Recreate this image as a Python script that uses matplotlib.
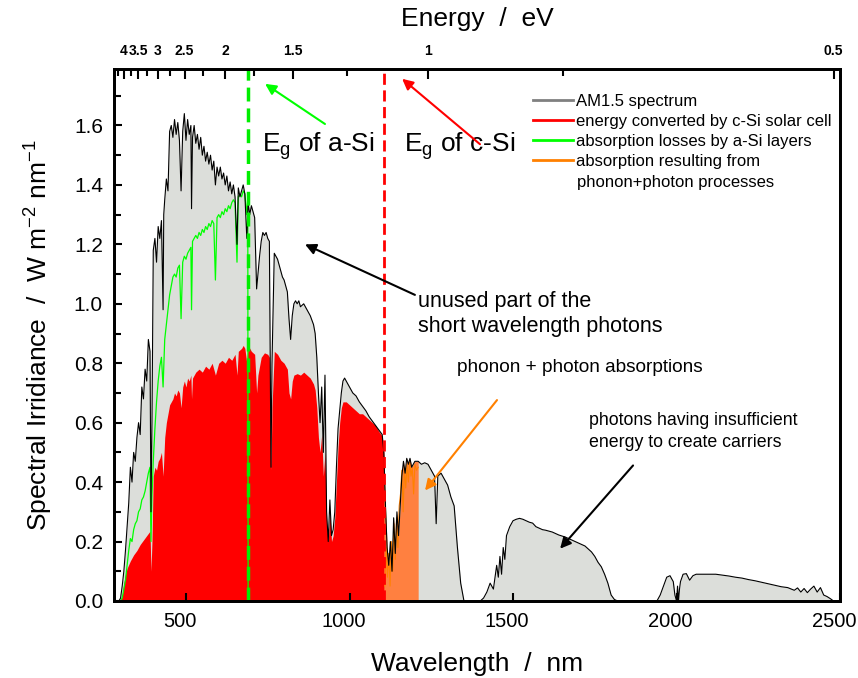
import numpy as np
import matplotlib
matplotlib.use("Agg")
import matplotlib.pyplot as plt
from matplotlib.transforms import ScaledTranslation

plt.rcParams['font.family'] = ['Liberation Sans', 'DejaVu Sans']
plt.rcParams['mathtext.fontset'] = 'custom'
plt.rcParams['mathtext.rm'] = 'Liberation Sans'

# AM1.5 spectrum
wl = [280, 295, 300, 305, 310, 315, 320, 325, 330, 335, 340, 345, 350, 355, 360, 365, 370, 375, 380, 385,
      390, 393, 396, 400, 405, 410, 415, 420, 425, 430, 432, 435, 440, 445, 450, 455, 460, 465, 470, 475,
      480, 485, 490, 495, 500, 505, 510, 515, 517, 520, 525, 530, 535, 540, 545, 550, 555, 560, 565, 570,
      575, 580, 585, 590, 595, 600, 605, 610, 615, 620, 625, 630, 635, 640, 645, 650, 656, 660, 665, 670,
      675, 680, 686, 690, 695, 700, 705, 710, 716, 720, 725, 730, 735, 740, 745, 750, 755, 760, 763, 770,
      775, 780, 785, 790, 795, 800, 805, 810, 815, 820, 825, 830, 835, 840, 845, 850, 860, 870, 880, 890,
      895, 900, 905, 910, 915, 920, 925, 930, 935, 940, 945, 950, 955, 960, 965, 970, 975, 980, 985, 990,
      1000, 1010, 1020, 1030, 1040, 1050, 1060, 1070, 1080, 1090, 1100, 1105, 1110, 1115, 1120, 1125, 1130, 1135, 1140, 1145,
      1150, 1155, 1160, 1165, 1170, 1175, 1180, 1185, 1190, 1200, 1210, 1220, 1230, 1240, 1250, 1260, 1265, 1270, 1280, 1290,
      1300, 1310, 1320, 1330, 1340, 1350, 1360, 1400, 1410, 1420, 1430, 1440, 1450, 1455, 1460, 1465, 1470, 1475, 1480, 1490,
      1500, 1510, 1520, 1530, 1540, 1550, 1560, 1570, 1580, 1590, 1600, 1620, 1640, 1660, 1680, 1700, 1720, 1740, 1750, 1760,
      1770, 1780, 1790, 1800, 1810, 1820, 1940, 1950, 1960, 1970, 1980, 1990, 1995, 2000, 2003, 2006, 2009, 2012, 2020, 2030,
      2040, 2050, 2060, 2080, 2100, 2120, 2140, 2160, 2180, 2200, 2220, 2240, 2260, 2280, 2300, 2320, 2340, 2360, 2370, 2380,
      2390, 2400, 2410, 2420, 2430, 2440, 2450, 2460, 2470, 2480, 2490, 2500]
am15 = [0.0, 0.0, 0.01, 0.05, 0.10, 0.17, 0.25, 0.33, 0.45, 0.40, 0.50, 0.47, 0.55, 0.60, 0.56, 0.72, 0.68, 0.78, 0.74, 0.88,
        0.84, 0.30, 0.60, 1.18, 1.22, 1.14, 1.26, 1.22, 1.28, 0.98, 1.30, 1.35, 1.42, 1.38, 1.58, 1.60, 1.56, 1.62, 1.57, 1.61,
        1.55, 1.38, 1.58, 1.64, 1.55, 1.62, 1.57, 1.60, 1.32, 1.56, 1.60, 1.54, 1.57, 1.52, 1.56, 1.50, 1.53, 1.48, 1.51, 1.47,
        1.50, 1.45, 1.48, 1.40, 1.46, 1.43, 1.46, 1.42, 1.44, 1.40, 1.43, 1.38, 1.41, 1.37, 1.40, 1.36, 1.20, 1.39, 1.36, 1.38,
        1.40, 1.37, 1.22, 1.34, 1.30, 1.33, 1.31, 1.29, 1.05, 1.10, 1.16, 1.21, 1.24, 1.23, 1.24, 1.22, 1.21, 0.45, 0.80, 1.17,
        1.16, 1.15, 1.13, 1.11, 1.09, 1.08, 1.06, 1.04, 0.95, 0.88, 0.96, 1.00, 1.01, 1.00, 1.01, 0.99, 1.00, 0.98, 0.96, 0.93,
        0.90, 0.82, 0.70, 0.60, 0.72, 0.50, 0.76, 0.30, 0.20, 0.34, 0.22, 0.24, 0.30, 0.45, 0.58, 0.64, 0.70, 0.74, 0.75, 0.74,
        0.72, 0.70, 0.69, 0.67, 0.655, 0.64, 0.62, 0.605, 0.59, 0.575, 0.56, 0.50, 0.32, 0.18, 0.12, 0.20, 0.10, 0.28, 0.16, 0.30,
        0.22, 0.32, 0.42, 0.47, 0.43, 0.48, 0.46, 0.48, 0.45, 0.47, 0.47, 0.46, 0.465, 0.46, 0.44, 0.42, 0.26, 0.42, 0.43, 0.41,
        0.39, 0.35, 0.32, 0.18, 0.06, 0.0, 0.0, 0.0, 0.01, 0.03, 0.06, 0.04, 0.12, 0.08, 0.15, 0.09, 0.18, 0.14, 0.22, 0.25,
        0.27, 0.275, 0.278, 0.275, 0.27, 0.265, 0.262, 0.25, 0.245, 0.24, 0.238, 0.232, 0.222, 0.215, 0.205, 0.195, 0.185, 0.165, 0.15, 0.13,
        0.115, 0.09, 0.06, 0.02, 0.005, 0.0, 0.0, 0.02, 0.05, 0.08, 0.085, 0.065, 0.02, 0.0, 0.05, 0.0, 0.04, 0.065, 0.09, 0.092,
        0.07, 0.085, 0.09, 0.09, 0.09, 0.09, 0.087, 0.084, 0.08, 0.077, 0.072, 0.068, 0.063, 0.058, 0.053, 0.048, 0.045, 0.036, 0.044, 0.03,
        0.042, 0.028, 0.04, 0.05, 0.03, 0.045, 0.02, 0.015, 0.008, 0.0, 0.0, 0.0]

# energy converted by c-Si cell
wl_red = [300, 305, 310, 315, 320, 330, 340, 350, 360, 370, 380, 390, 393, 396, 400, 405, 410, 415, 420, 425,
          430, 435, 440, 445, 450, 455, 460, 465, 470, 475, 480, 485, 490, 495, 500, 505, 510, 515, 517, 520,
          530, 540, 550, 560, 570, 580, 590, 600, 610, 620, 630, 640, 650, 656, 660, 670, 675, 680, 686, 690,
          700, 710, 716, 720, 730, 740, 750, 755, 760, 763, 770, 780, 790, 800, 810, 815, 820, 825, 830, 840,
          850, 860, 870, 880, 890, 895, 900, 905, 910, 915, 920, 925, 930, 935, 940, 945, 950, 955, 960, 965,
          970, 975, 980, 990, 1000, 1010, 1020, 1030, 1040, 1050, 1060, 1070, 1080, 1090, 1100, 1105, 1107]
red = [0.0, 0.02, 0.06, 0.09, 0.11, 0.135, 0.155, 0.17, 0.19, 0.205, 0.22, 0.235, 0.10, 0.20, 0.42, 0.45, 0.44, 0.47, 0.48, 0.50,
       0.42, 0.55, 0.60, 0.63, 0.66, 0.67, 0.68, 0.70, 0.69, 0.71, 0.70, 0.65, 0.72, 0.74, 0.72, 0.75, 0.74, 0.76, 0.68, 0.75,
       0.77, 0.78, 0.77, 0.79, 0.78, 0.80, 0.76, 0.80, 0.81, 0.80, 0.82, 0.81, 0.83, 0.76, 0.84, 0.85, 0.86, 0.85, 0.80, 0.86,
       0.84, 0.83, 0.70, 0.76, 0.82, 0.835, 0.83, 0.82, 0.44, 0.65, 0.84, 0.83, 0.81, 0.80, 0.78, 0.70, 0.68, 0.74, 0.76, 0.765,
       0.76, 0.77, 0.76, 0.75, 0.73, 0.71, 0.65, 0.55, 0.50, 0.56, 0.42, 0.50, 0.26, 0.20, 0.30, 0.20, 0.22, 0.28, 0.40, 0.52,
       0.60, 0.65, 0.67, 0.67, 0.66, 0.65, 0.64, 0.63, 0.63, 0.62, 0.61, 0.60, 0.59, 0.57, 0.555, 0.50, 0.45]

# absorption losses by a-Si layers
wl_green = [300, 305, 310, 315, 320, 325, 330, 335, 340, 345, 350, 355, 360, 365, 370, 375, 380, 385, 390, 393,
            396, 400, 405, 410, 415, 420, 425, 430, 435, 440, 445, 450, 455, 460, 465, 470, 475, 480, 485, 490,
            495, 500, 505, 510, 515, 517, 520, 525, 530, 535, 540, 545, 550, 555, 560, 565, 570, 575, 580, 585,
            590, 595, 600, 605, 610, 615, 620, 625, 630, 635, 640, 645, 650, 656, 660, 665, 670, 675, 680, 686,
            689, 690]
green = [0.0, 0.01, 0.04, 0.07, 0.12, 0.17, 0.21, 0.20, 0.24, 0.26, 0.27, 0.30, 0.31, 0.34, 0.35, 0.37, 0.40, 0.43, 0.45, 0.20,
         0.35, 0.47, 0.58, 0.67, 0.74, 0.79, 0.82, 0.72, 0.88, 0.93, 0.98, 1.03, 1.06, 1.09, 1.10, 1.09, 1.12, 1.13, 0.95, 1.14,
         1.16, 1.15, 1.17, 1.18, 1.19, 0.98, 1.21, 1.22, 1.23, 1.22, 1.24, 1.23, 1.25, 1.24, 1.26, 1.25, 1.27, 1.26, 1.28, 1.27,
         1.08, 1.29, 1.30, 1.29, 1.31, 1.30, 1.32, 1.31, 1.33, 1.32, 1.34, 1.35, 1.34, 1.14, 1.36, 1.37, 1.36, 1.38, 1.37, 1.30,
         1.35, 0.0]

# phonon + photon absorption
wl_orange = [1108, 1112, 1116, 1120, 1124, 1128, 1132, 1136, 1140, 1144, 1148, 1152, 1156, 1160, 1164, 1168, 1172, 1176, 1180, 1184,
             1188, 1192, 1196, 1200, 1205, 1210]
orange = [0.05, 0.18, 0.08, 0.16, 0.05, 0.20, 0.10, 0.26, 0.14, 0.28, 0.18, 0.32, 0.36, 0.44, 0.30, 0.45, 0.38, 0.46, 0.40, 0.47,
          0.42, 0.45, 0.36, 0.46, 0.44, 0.45]

eg_asi = 689
eg_csi = 1107
e_major = [4, 3.5, 3, 2.5, 2, 1.5, 1, 0.5]
e_minor = [4.25, 3.75, 3.25, 2.75, 2.25, 1.75, 1.25, 0.75]

wl = np.array(wl)
am15 = np.array(am15)

fig = plt.figure(figsize=(8.58, 6.78), dpi=100)
ax = fig.add_axes([0.1329, 0.1136, 0.8462, 0.7846])

ax.fill_between(wl, am15, color='#dcdeda', lw=0)
ax.fill_between(wl_red, red, color='#ff0000', lw=0)
sel = (wl >= 1105) & (wl <= 1210)
ax.fill_between(wl[sel], am15[sel], color='#ff8040', lw=0)
ax.plot(wl_orange, orange, color='#ff8000', lw=0.8)
ax.plot(wl_green, green, color='#00ff00', lw=0.9)
ax.plot(wl, am15, color='black', lw=0.8)

ax.axvline(eg_asi, color='#00ee00', lw=2.5, ls=(0, (4, 2)))
ax.axvline(eg_csi, color='#ff0000', lw=2.0, ls=(0, (4, 2)))

# legend handles
ax.plot([], [], color='#808080', lw=2, label='AM1.5 spectrum')
ax.plot([], [], color='#ff0000', lw=2, label='energy converted by c-Si solar cell')
ax.plot([], [], color='#00ff00', lw=2, label='absorption losses by a-Si layers')
ax.plot([], [], color='#ff8000', lw=2, label='absorption resulting from')
handles, labels = ax.get_legend_handles_labels()
ax.legend(handles[-4:], labels[-4:], loc='upper left', bbox_to_anchor=(0.568, 0.965), frameon=False,
          fontsize=12, handlelength=2.4, handletextpad=0.2, labelspacing=0.3, borderaxespad=0)
ax.text(0.6377, 0.7876, 'phonon+photon processes', transform=ax.transAxes, fontsize=12, va='center')

ax.text(733, 1.53, r'E$_\mathregular{g}$ of a-Si', fontsize=19, va='center')
ax.text(1167, 1.53, r'E$_\mathregular{g}$ of c-Si', fontsize=19, va='center')

arrow = dict(arrowstyle='-|>', lw=1.5, mutation_scale=16, shrinkA=0, shrinkB=0)
ax.annotate('', xy=(742, 1.74), xytext=(925, 1.605), arrowprops=dict(arrow, color='#00ff00'))
ax.annotate('', xy=(1161, 1.757), xytext=(1399, 1.537), arrowprops=dict(arrow, color='#ff0000'))
ax.annotate('', xy=(864, 1.2), xytext=(1200, 1.03), arrowprops=dict(arrow, color='black'))
ax.annotate('', xy=(1231, 0.372), xytext=(1451, 0.676), arrowprops=dict(arrow, color='#ff8000'))
ax.annotate('', xy=(1644, 0.176), xytext=(1867, 0.456), arrowprops=dict(arrow, color='black'))

ax.text(1210, 0.965, 'unused part of the\nshort wavelength photons', fontsize=15.5, va='center', linespacing=1.25)
ax.text(1329, 0.784, 'phonon + photon absorptions', fontsize=13.7, va='center')
ax.text(1733, 0.571, 'photons having insufficient\nenergy to create carriers', fontsize=12.8, va='center', linespacing=1.35)

ax.set_xlim(280, 2500)
ax.set_ylim(0, 1.79)
ax.set_xticks([500, 1000, 1500, 2000, 2500])
ax.set_yticks(np.arange(0, 1.61, 0.2))
ax.set_yticks(np.arange(0, 1.75, 0.1), minor=True)
ax.yaxis.set_major_formatter(matplotlib.ticker.FormatStrFormatter('%.1f'))
ax.tick_params(which='both', direction='in', width=1.5, labelsize=15, top=False, right=False)
ax.tick_params(axis='x', labelsize=14.5)
ax.tick_params(which='major', length=6)
ax.tick_params(which='minor', length=5)
ax.tick_params(axis='x', pad=8)
ax.tick_params(axis='y', pad=8)
for s in ax.spines.values():
    s.set_linewidth(2)
shift = ScaledTranslation(-6 / 100, 0, fig.dpi_scale_trans)
for lab in ax.get_xticklabels():
    lab.set_transform(lab.get_transform() + shift)

ax.set_xlabel('Wavelength  /  nm', fontsize=19, labelpad=15)
ax.set_ylabel('Spectral Irridiance  /  W m$^{\\mathregular{-2}}$ nm$^{\\mathregular{-1}}$', fontsize=19, labelpad=14)

ax2 = ax.twiny()
ax2.set_xlim(ax.get_xlim())
ax2.set_xticks([1240 / e for e in e_major])
ax2.set_xticklabels(['%g' % e for e in e_major], fontweight='bold', fontsize=10)
ax2.set_xticks([1240 / e for e in e_minor], minor=True)
ax2.tick_params(which='both', direction='in', width=1.5, pad=8)
ax2.tick_params(which='major', length=7)
ax2.tick_params(which='minor', length=5)
for s in ax2.spines.values():
    s.set_linewidth(2)
ax2.set_xlabel('Energy  /  eV', fontsize=19, labelpad=13)

fig.savefig('out.png', dpi=100)
